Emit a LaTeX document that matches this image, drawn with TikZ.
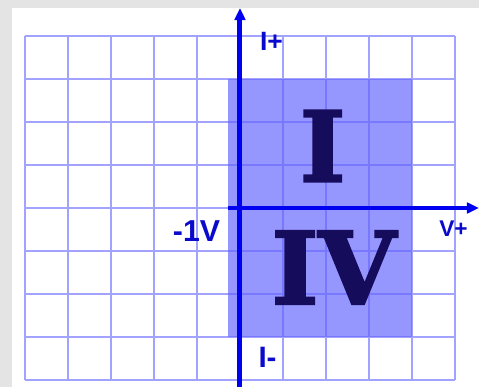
\documentclass[tikz,border=0pt]{standalone}
\usepackage{fontspec}
\newfontfamily\axisfont{Liberation Sans}
\newfontfamily\quadfont{DejaVu Serif}[BoldFeatures={FakeBold=2.5}]
\usetikzlibrary{arrows.meta}
\definecolor{gridblue}{RGB}{100,100,255}
\definecolor{shadeblue}{RGB}{150,150,255}
\definecolor{axisblue}{RGB}{0,0,240}
\definecolor{labelblue}{RGB}{10,10,205}
\definecolor{quadnavy}{RGB}{22,12,92}
\definecolor{panelgray}{RGB}{228,228,228}

\begin{document}
\begin{tikzpicture}[
    gridline/.style={draw=gridblue, draw opacity=0.6, line width=1.3pt},
    axis/.style={draw=axisblue, line width=3.3pt, -{Triangle[length=8pt,width=7pt]}},
    axislabel/.style={text=labelblue, inner sep=0pt, font=\axisfont\bfseries\fontsize{#1}{#1}\selectfont},
    quadrant/.style={text=quadnavy, inner sep=0pt, font=\quadfont\bfseries\fontsize{#1}{#1}\selectfont}]
    \useasboundingbox (-5.575,-4.158) rectangle (5.552,4.832);
    \fill[panelgray] (-5.575,-4.158) rectangle (5.552,4.832);
    \fill[white] (-5.296,-4.158) rectangle (5.552,4.646);

    % shaded quadrants and grid
    \fill[shadeblue] (-0.28,-3) rectangle (4,3);
    \draw[gridline] (-5,-4) grid (5,4);

    % axes
    \coordinate (vbottom) at (0,-4.158);
    \coordinate (vtop) at (0,4.646);
    \coordinate (hleft) at (-0.28,0);
    \coordinate (hright) at (5.552,0);
    \draw[axis] (vbottom) -- (vtop);
    \draw[axis] (hleft) -- (hright);

    \node[axislabel=17.5pt] (iplus) at (0.73,3.87) {I+};
    \node[axislabel=19.5pt] (iminus) at (0.64,-3.47) {I-};
    \node[axislabel=20pt] (vminus) at (-1.01,-0.534) {-1V};
    \node[axislabel=15pt] (vplus) at (4.96,-0.49) {V+};

    \node[quadrant=64pt] (quadI) at (1.92,1.44) {I};
    \node[quadrant=66pt] (quadIV) at (2.18,-1.38) {IV};
\end{tikzpicture}
\end{document}
